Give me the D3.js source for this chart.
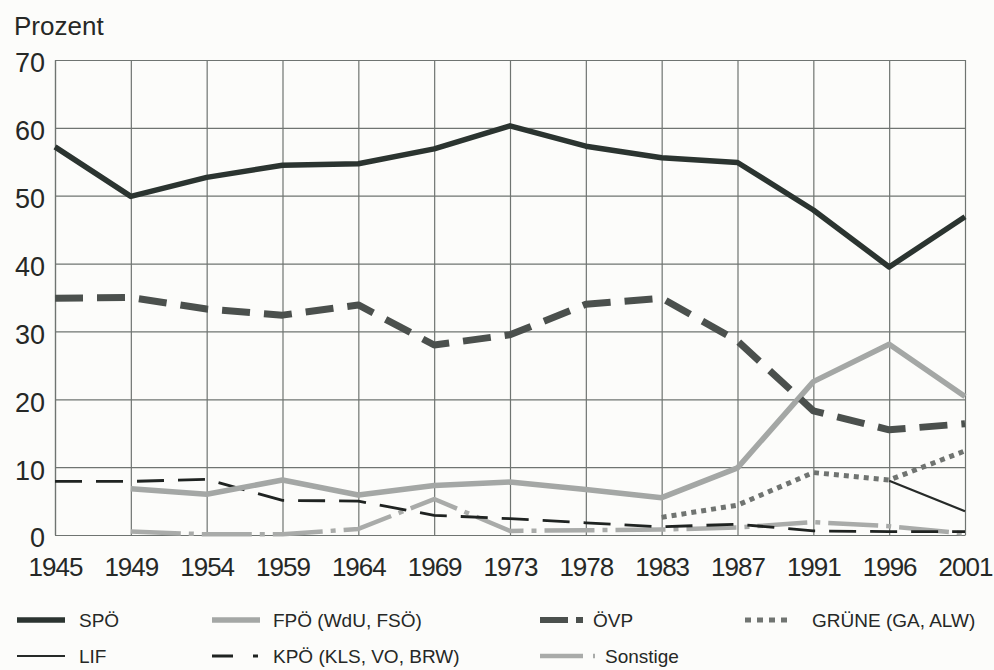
<!DOCTYPE html>
<html>
<head>
<meta charset="utf-8">
<script src="https://cdn.jsdelivr.net/npm/d3@7"></script>
<style>
  body { margin: 0; background: #fcfcfa; }
  svg { display: block; font-family: "Liberation Sans", Arial, sans-serif; }
</style>
</head>
<body>
<div id="chart"></div>
<script>
// Wahlergebnisse in Prozent
var years = ["1945", "1949", "1954", "1959", "1964", "1969", "1973", "1978", "1983", "1987", "1991", "1996", "2001"];
var spoe     = [57.2, 49.9, 52.7, 54.5, 54.7, 56.9, 60.3, 57.3, 55.6, 54.9, 47.9, 39.5, 46.9];
var oevp     = [34.9, 35.0, 33.3, 32.4, 33.9, 28.0, 29.5, 34.0, 34.9, 28.6, 18.3, 15.5, 16.4];
var fpoe     = [null, 6.8, 6.0, 8.1, 5.9, 7.3, 7.8, 6.7, 5.5, 9.9, 22.6, 28.1, 20.4];
var gruene   = [null, null, null, null, null, null, null, null, 2.6, 4.4, 9.2, 8.1, 12.4];
var kpoe     = [7.9, 7.9, 8.2, 5.1, 5.0, 2.9, 2.4, 1.8, 1.2, 1.6, 0.6, 0.5, 0.5];
var lif      = [null, null, null, null, null, null, null, null, null, null, null, 8.0, 3.5];
var sonstige = [null, 0.5, 0.1, 0.1, 0.9, 5.3, 0.6, 0.7, 0.8, 1.1, 1.9, 1.3, 0.2];
var yTicks = [0, 10, 20, 30, 40, 50, 60, 70];

var W = 994, H = 670;
var margin = {top: 60, right: 29, bottom: 135, left: 55};
var x0 = margin.left, x1 = W - margin.right;
var y0 = H - margin.bottom, y1 = margin.top;

var svg = d3.select("#chart").append("svg")
  .attr("width", W)
  .attr("height", H);

svg.append("rect").attr("width", W).attr("height", H).attr("fill", "#fcfcfa");

var x = d3.scalePoint().domain(years).range([x0, x1]);
var y = d3.scaleLinear().domain([0, 70]).range([y0, y1]);

// Gitter + Achsen
var gx = svg.append("g")
  .attr("transform", "translate(0," + y0 + ")")
  .call(d3.axisBottom(x).tickSize(-(y0 - y1)).tickSizeOuter(0).tickPadding(23));
var gy = svg.append("g")
  .attr("transform", "translate(" + x0 + ",0)")
  .call(d3.axisLeft(y).tickValues(yTicks).tickSize(-(x1 - x0)).tickSizeOuter(0).tickPadding(10));

[gx, gy].forEach(function(g) {
  g.select(".domain").attr("stroke", "#6f7471").attr("stroke-width", 1.2);
  g.selectAll(".tick line").attr("stroke", "#6f7471").attr("stroke-width", 1.2);
  g.selectAll(".tick text")
    .attr("fill", "#262826")
    .style("font-size", "27px")
    .style("font-family", "'Liberation Sans', Arial, sans-serif");
});
gy.selectAll(".tick text").attr("dy", "0.44em");
gx.selectAll(".tick text")
  .style("font-size", "26px")
  .style("letter-spacing", "-1px");

svg.append("text")
  .attr("x", 14).attr("y", 35)
  .attr("fill", "#262826")
  .style("font-size", "26px")
  .text("Prozent");

// Linien
var series = [
  {name: "Sonstige", values: sonstige, color: "#a9aba9", width: 4.5, dash: "50,8,5,8"},
  {name: "KPÖ (KLS, VO, BRW)", values: kpoe, color: "#1f2321", width: 2.8, dash: "27,14"},
  {name: "LIF", values: lif, color: "#262a28", width: 2.2, dash: null},
  {name: "GRÜNE (GA, ALW)", values: gruene, color: "#707471", width: 5, dash: "5,5"},
  {name: "FPÖ (WdU, FSÖ)", values: fpoe, color: "#a4a7a5", width: 5.5, dash: null},
  {name: "ÖVP", values: oevp, color: "#4b504d", width: 7, dash: "28,14"},
  {name: "SPÖ", values: spoe, color: "#2b3430", width: 5.5, dash: null}
];

var line = d3.line()
  .defined(function(d) { return d != null; })
  .x(function(d, i) { return x(years[i]); })
  .y(function(d) { return y(d); });

svg.selectAll("path.series")
  .data(series)
  .enter().append("path")
  .attr("class", "series")
  .attr("fill", "none")
  .attr("stroke", function(d) { return d.color; })
  .attr("stroke-width", function(d) { return d.width; })
  .attr("stroke-dasharray", function(d) { return d.dash; })
  .attr("stroke-linejoin", "round")
  .attr("d", function(d) { return line(d.values); });

// Legende
var legend = [
  {name: "SPÖ", x: 17, y: 620, len: 48, color: "#2b3430", width: 5.5, dash: null, tx: 79},
  {name: "FPÖ (WdU, FSÖ)", x: 212, y: 620, len: 48, color: "#a4a7a5", width: 5.5, dash: null, tx: 273},
  {name: "ÖVP", x: 540, y: 620, len: 43, color: "#4b504d", width: 6, dash: "28,8,7,100", tx: 593},
  {name: "GRÜNE (GA, ALW)", x: 745, y: 620, len: 42, color: "#707471", width: 5, dash: "6,6", tx: 812},
  {name: "LIF", x: 17, y: 656, len: 48, color: "#262a28", width: 2.2, dash: null, tx: 79},
  {name: "KPÖ (KLS, VO, BRW)", x: 212, y: 656, len: 46, color: "#1f2321", width: 3, dash: "21,20,5,100", tx: 273},
  {name: "Sonstige", x: 540, y: 656, len: 56, color: "#a9aba9", width: 4.5, dash: "43,10,2,100", tx: 605}
];

var lg = svg.append("g").selectAll("g")
  .data(legend)
  .enter().append("g");

lg.append("line")
  .attr("x1", function(d) { return d.x; })
  .attr("x2", function(d) { return d.x + d.len; })
  .attr("y1", function(d) { return d.y; })
  .attr("y2", function(d) { return d.y; })
  .attr("stroke", function(d) { return d.color; })
  .attr("stroke-width", function(d) { return d.width; })
  .attr("stroke-dasharray", function(d) { return d.dash; });

lg.append("text")
  .attr("x", function(d) { return d.tx; })
  .attr("y", function(d) { return d.y + 7; })
  .attr("fill", "#262826")
  .style("font-size", "19px")
  .text(function(d) { return d.name; });
</script>
</body>
</html>
